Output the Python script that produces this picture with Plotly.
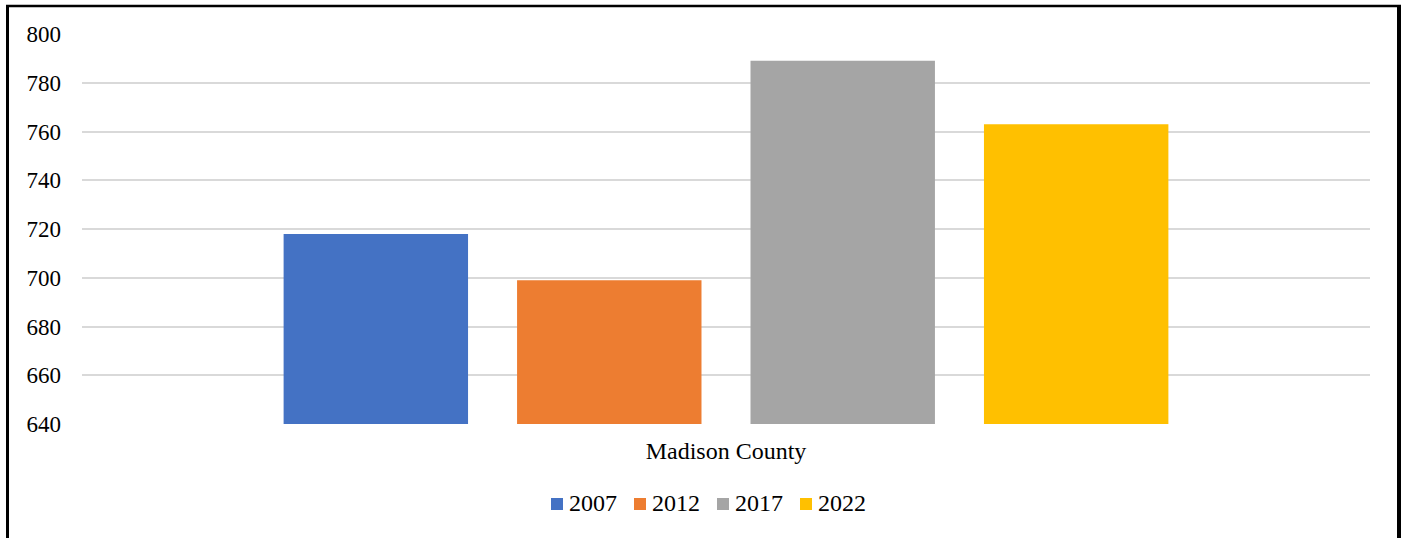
import plotly.graph_objects as go

# Chart data
categories = ["Madison County"]
years = ["2007", "2012", "2017", "2022"]
values_2007 = [718]
values_2012 = [699]
values_2017 = [789]
values_2022 = [763]
series_values = [values_2007, values_2012, values_2017, values_2022]
y_ticks = [640, 660, 680, 700, 720, 740, 760, 780, 800]

colors = ["#4472C4", "#ED7D31", "#A5A5A5", "#FFC000"]
FONT = "Liberation Serif, Times New Roman, serif"

W, H = 1403, 538
L, R, T, B = 82, 33, 34, 114
plot_w = W - L - R
plot_h = H - T - B


def px_x(px):
    return (px - L) / plot_w


def px_y(py):
    return (H - B - py) / plot_h


fig = go.Figure()
for year, vals, col in zip(years, series_values, colors):
    fig.add_trace(go.Bar(x=categories, y=vals, name=year, showlegend=False,
                         marker=dict(color=col, line=dict(width=0))))

# Outer black frame (open at the bottom)
shapes = [
    dict(type="line", xref="paper", yref="paper", x0=px_x(7.5), x1=px_x(7.5), y0=px_y(5), y1=px_y(560),
         line=dict(color="black", width=3)),
    dict(type="line", xref="paper", yref="paper", x0=px_x(6), x1=px_x(1401), y0=px_y(6), y1=px_y(6),
         line=dict(color="black", width=2.5)),
    dict(type="line", xref="paper", yref="paper", x0=px_x(1399), x1=px_x(1399), y0=px_y(5), y1=px_y(560),
         line=dict(color="black", width=4)),
]

# Compact legend row below the category label: colour square + year text
annotations = []
legend_left, legend_step, legend_mid, sq = 551, 83, 504, 12
for i, (year, col) in enumerate(zip(years, colors)):
    x0 = legend_left + legend_step * i
    shapes.append(dict(type="rect", xref="paper", yref="paper",
                       x0=px_x(x0), x1=px_x(x0 + sq),
                       y0=px_y(legend_mid + sq / 2), y1=px_y(legend_mid - sq / 2),
                       fillcolor=col, line=dict(width=0)))
    annotations.append(dict(text=year, xref="paper", yref="paper", x=px_x(x0 + sq + 4),
                            y=px_y(legend_mid - 1), xanchor="left", yanchor="middle", showarrow=False,
                            font=dict(family=FONT, size=24, color="black")))

fig.update_layout(
    width=W, height=H,
    margin=dict(l=L, r=R, t=T, b=B),
    paper_bgcolor="white", plot_bgcolor="white",
    font=dict(family=FONT, size=23, color="black"),
    barmode="group", bargap=0.275, bargroupgap=0.21,
    showlegend=False,
    xaxis=dict(showgrid=False, showline=False, ticks="", ticklabelstandoff=10,
               tickfont=dict(family=FONT, size=24, color="black")),
    yaxis=dict(range=[640, 800], tickvals=y_ticks, showgrid=True, gridcolor="#d9d9d9", gridwidth=1.5,
               zeroline=False, showline=False, ticks="", ticklabelstandoff=20,
               tickfont=dict(family=FONT, size=23, color="black")),
    shapes=shapes,
    annotations=annotations,
)

fig.write_html("out.html")
